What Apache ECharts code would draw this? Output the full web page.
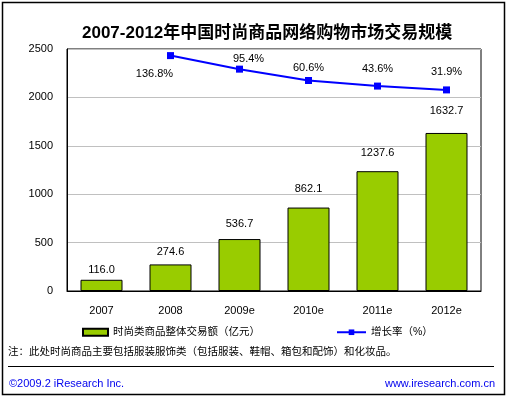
<!DOCTYPE html>
<html>
<head>
<meta charset="utf-8">
<script src="https://cdn.jsdelivr.net/npm/echarts@6/dist/echarts.min.js"></script>
<style>
  html, body { margin: 0; padding: 0; background: #fff; }
  #chart { width: 507px; height: 397px; }
</style>
</head>
<body>
<div id="chart"></div>
<script>
const years = ['2007', '2008', '2009e', '2010e', '2011e', '2012e']
const volume = [116.0, 274.6, 536.7, 862.1, 1237.6, 1632.7]
const growth = ['-', 136.8, 95.4, 60.6, 43.6, 31.9]
const barName = '时尚类商品整体交易额（亿元）'
const lineName = '增长率（%）'

// label nudges
const barLabelDist = [4, 7, 10, 13, 13, 16]
const lineLabelOffset = [[0, 0], [-16, 32], [9, 4], [0, 1], [0, -3], [0, -4]]

const font = "'Liberation Sans', 'Noto Sans CJK SC', sans-serif"

const chart = echarts.init(document.getElementById('chart'))

chart.setOption({
  animation: false,
  textStyle: { fontFamily: font },
  title: {
    text: '2007-2012年中国时尚商品网络购物市场交易规模',
    left: 77,
    top: 20,
    textStyle: { fontSize: 17, fontWeight: 'bold', color: '#000', fontFamily: font }
  },
  legend: [
    {
      data: [{ name: barName, icon: 'rect' }],
      left: 77,
      top: 322,
      itemWidth: 25,
      itemHeight: 7,
      itemGap: 4,
      textStyle: { fontSize: 10.5, color: '#000' }
    },
    {
      data: [lineName],
      left: 331,
      top: 322,
      itemWidth: 29,
      itemHeight: 7,
      textStyle: { fontSize: 10.5, color: '#000' }
    }
  ],
  grid: {
    left: 67, top: 49, right: 26, bottom: 106,
    show: true, borderColor: '#000', borderWidth: 1
  },
  xAxis: {
    type: 'category',
    data: years,
    axisLine: { lineStyle: { color: '#000', width: 1 } },
    axisTick: { show: false },
    axisLabel: { color: '#000', fontSize: 11, margin: 14 }
  },
  yAxis: [
    {
      type: 'value',
      min: 0, max: 2500, interval: 500,
      axisLine: { show: true, lineStyle: { color: '#000' } },
      axisTick: { show: false },
      axisLabel: { color: '#000', fontSize: 11, margin: 14, formatter: v => String(v) },
      splitLine: { lineStyle: { color: '#c0c0c0' } }
    },
    {
      type: 'value',
      min: -583, max: 157,
      show: false,
      splitLine: { show: false }
    }
  ],
  series: [
    {
      name: barName,
      type: 'bar',
      data: volume.map((v, i) => ({
        value: v,
        label: { distance: barLabelDist[i] }
      })),
      barWidth: 42,
      itemStyle: { color: '#99cc00', borderColor: '#000', borderWidth: 1 },
      label: {
        show: true,
        position: 'top',
        color: '#000',
        fontSize: 11,
        formatter: p => p.value.toFixed(1)
      }
    },
    {
      name: lineName,
      type: 'line',
      yAxisIndex: 1,
      data: growth.map((v, i) => ({
        value: v,
        label: { offset: lineLabelOffset[i] }
      })),
      symbol: 'rect',
      symbolSize: 7,
      lineStyle: { color: '#0000ff', width: 2 },
      itemStyle: { color: '#0000ff' },
      label: {
        show: true,
        position: 'top',
        color: '#000',
        fontSize: 11,
        formatter: p => p.value.toFixed(1) + '%'
      }
    }
  ],
  graphic: [
    {
      type: 'rect',
      shape: { x: 2.5, y: 2.5, width: 502, height: 392 },
      style: { fill: null, stroke: '#000', lineWidth: 1.5 },
      silent: true
    },
    {
      type: 'text',
      left: 8,
      top: 347,
      style: {
        text: '注：此处时尚商品主要包括服装服饰类（包括服装、鞋帽、箱包和配饰）和化妆品。',
        font: '10.5px ' + font,
        fill: '#000'
      }
    },
    {
      type: 'line',
      shape: { x1: 8, y1: 366.5, x2: 494, y2: 366.5 },
      style: { stroke: '#000', lineWidth: 1 }
    },
    {
      type: 'text',
      left: 9,
      top: 378,
      style: { text: '©2009.2 iResearch Inc.', font: '11px ' + font, fill: '#0000ee' }
    },
    {
      type: 'text',
      right: 12,
      top: 378,
      style: { text: 'www.iresearch.com.cn', font: '11px ' + font, fill: '#0000ee' }
    }
  ]
})

window.addEventListener('resize', () => chart.resize())
</script>
</body>
</html>
